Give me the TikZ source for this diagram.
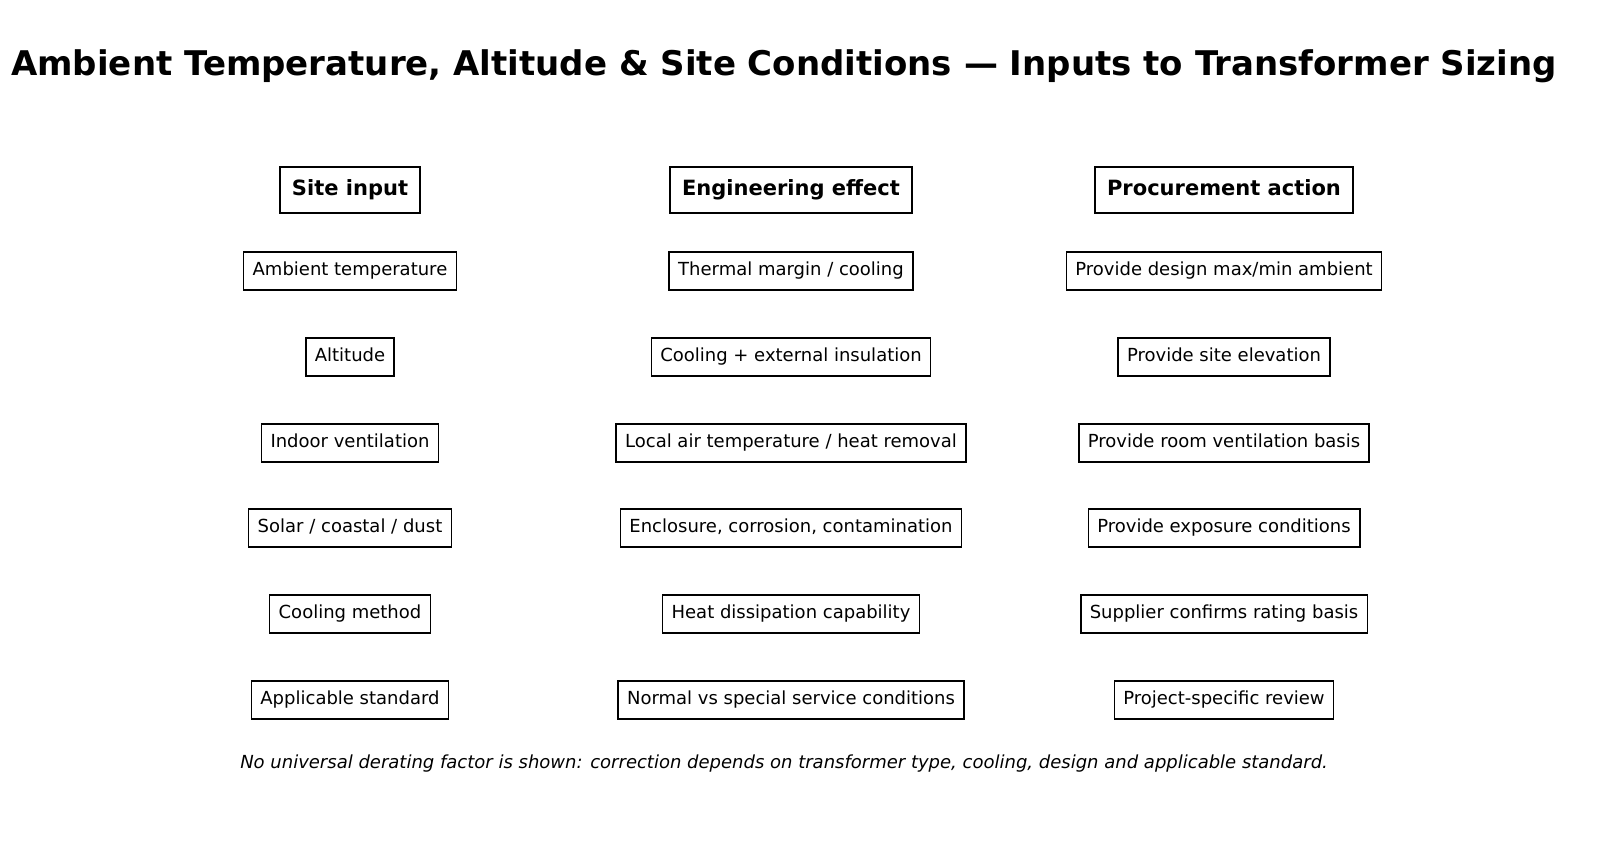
\documentclass[tikz,border=0pt]{standalone}
\usepackage{fontspec}
\setmainfont{DejaVu Sans}
\begin{document}
\begin{tikzpicture}[x=1pt,y=-1pt,
  box/.style={draw,line width=1.5pt,inner xsep=9pt,inner ysep=0pt,text height=13.5pt,text depth=4pt,minimum height=38pt,font=\fontsize{18}{20}\selectfont},
  head/.style={draw,line width=1.5pt,inner xsep=12pt,inner ysep=0pt,text height=15.5pt,text depth=5pt,minimum height=46pt,font=\fontsize{21}{24}\selectfont\bfseries}]
\useasboundingbox (0,0) rectangle (1600,855);
\node[font=\fontsize{34}{38}\selectfont\bfseries] (title) at (784,66) {Ambient Temperature, Altitude \& Site Conditions — Inputs to Transformer Sizing};
\node[head] (h1) at (350,190) {Site input};
\node[head] (h2) at (791,190) {Engineering effect};
\node[head] (h3) at (1224,190) {Procurement action};
\foreach \y/\a/\b/\c/\n in {
271/{Ambient temperature}/{Thermal margin / cooling}/{Provide design max/min ambient}/1,
357/{Altitude}/{Cooling + external insulation}/{Provide site elevation}/2,
443/{Indoor ventilation}/{Local air temperature / heat removal}/{Provide room ventilation basis}/3,
528/{Solar / coastal / dust}/{Enclosure, corrosion, contamination}/{Provide exposure conditions}/4,
614/{Cooling method}/{Heat dissipation capability}/{Supplier confirms rating basis}/5,
700/{Applicable standard}/{Normal vs special service conditions}/{Project-specific review}/6}{
\node[box] (a\n) at (350,\y) {\a};
\node[box] (b\n) at (791,\y) {\b};
\node[box] (c\n) at (1224,\y) {\c};
}
\node[font=\fontsize{18}{20}\selectfont\itshape] (foot) at (784,764) {No universal derating factor is shown: correction depends on transformer type, cooling, design and applicable standard.};
\end{tikzpicture}
\end{document}
